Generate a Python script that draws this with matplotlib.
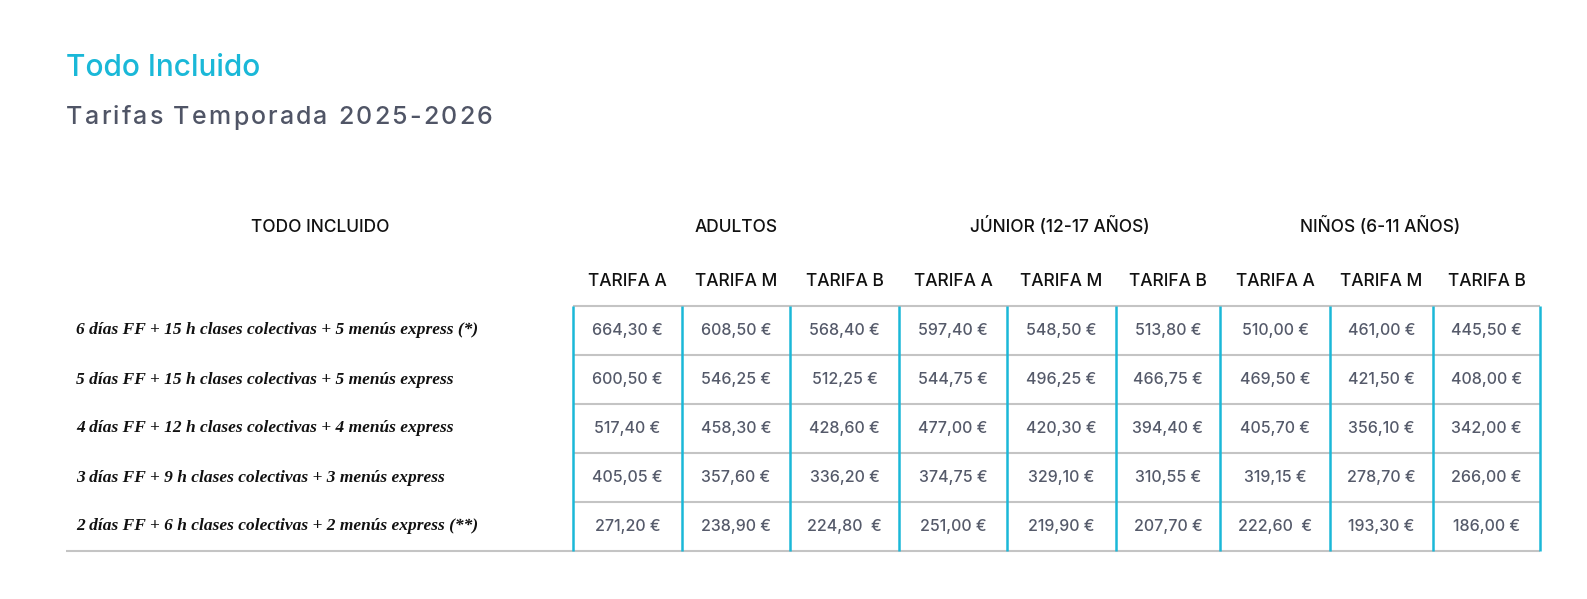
import matplotlib
matplotlib.use("Agg")
import matplotlib.pyplot as plt

title = "Todo Incluido"
subtitle = "Tarifas Temporada 2025-2026"
corner = "TODO INCLUIDO"
groups = ["ADULTOS", "JÚNIOR (12-17 AÑOS)", "NIÑOS (6-11 AÑOS)"]
tarifas = ["TARIFA A", "TARIFA M", "TARIFA B"]
rows = [
    "6 días FF + 15 h clases colectivas + 5 menús express (*)",
    "5 días FF + 15 h clases colectivas + 5 menús express",
    "4 días FF + 12 h clases colectivas + 4 menús express",
    "3 días FF + 9 h clases colectivas + 3 menús express",
    "2 días FF + 6 h clases colectivas + 2 menús express (**)",
]
values = [
    ["664,30 €", "608,50 €", "568,40 €", "597,40 €", "548,50 €", "513,80 €", "510,00 €", "461,00 €", "445,50 €"],
    ["600,50 €", "546,25 €", "512,25 €", "544,75 €", "496,25 €", "466,75 €", "469,50 €", "421,50 €", "408,00 €"],
    ["517,40 €", "458,30 €", "428,60 €", "477,00 €", "420,30 €", "394,40 €", "405,70 €", "356,10 €", "342,00 €"],
    ["405,05 €", "357,60 €", "336,20 €", "374,75 €", "329,10 €", "310,55 €", "319,15 €", "278,70 €", "266,00 €"],
    ["271,20 €", "238,90 €", "224,80  €", "251,00 €", "219,90 €", "207,70 €", "222,60  €", "193,30 €", "186,00 €"],
]

W, H = 1587, 599
fig = plt.figure(figsize=(W/100, H/100), dpi=100)
ax = fig.add_axes([0, 0, 1, 1])
ax.set_xlim(0, W); ax.set_ylim(H, 0); ax.axis("off")

cyan = "#1ab8d8"; grey = "#c4c4c4"; txt = "#555a6a"
xs = [573, 682, 790, 899, 1007, 1116, 1220, 1330, 1433, 1540]
ys = [306, 355, 404, 453, 502, 551]

ax.text(66, 68, title, color=cyan, fontsize=21.5, family="Inter", fontweight="medium", va="center")
# letter-spaced subtitle
ax.text(66, 118, " ".join(subtitle).replace("   ", "    "), color="#505566", fontsize=17,
        family="Inter", fontweight="medium", va="center") if False else None
x0 = 66
for ch in subtitle:
    t = ax.text(x0, 118, ch, color="#505566", fontsize=18, family="Inter", fontweight="medium", va="center")
    fig.canvas.draw() if x0 == 66 else None
    bb = t.get_window_extent(renderer=fig.canvas.get_renderer())
    x0 += (bb.width if ch != " " else 6) + 2.2

hfont = dict(family="Inter", fontsize=12.5, color="#111111", ha="center", va="center", fontweight="medium")
ax.text(320, 227, corner, **hfont)
for g, name in enumerate(groups):
    ax.text((xs[3*g] + xs[3*g+3]) / 2, 227, name, **hfont)
for j in range(9):
    ax.text((xs[j] + xs[j+1]) / 2, 281, tarifas[j % 3], **hfont)

for y in ys[:-1]:
    ax.plot([xs[0], xs[-1]], [y, y], color=grey, lw=1.5, solid_capstyle="butt")
ax.plot([66, xs[-1]], [ys[-1], ys[-1]], color=grey, lw=1.5, solid_capstyle="butt")
for x in xs:
    ax.plot([x, x], [ys[0], ys[-1]], color=cyan, lw=1.8, solid_capstyle="butt")

for i, r in enumerate(rows):
    yc = (ys[i] + ys[i+1]) / 2
    ax.text(76, yc, r, family="Liberation Serif", style="italic", fontweight="bold",
            fontsize=12.5, color="#111111", va="center", ha="left")
    for j, v in enumerate(values[i]):
        ax.text((xs[j] + xs[j+1]) / 2, yc, v, family="Inter", fontsize=11.5, color=txt,
                fontweight="medium", ha="center", va="center")

fig.savefig("out.png", dpi=100, facecolor="white")
